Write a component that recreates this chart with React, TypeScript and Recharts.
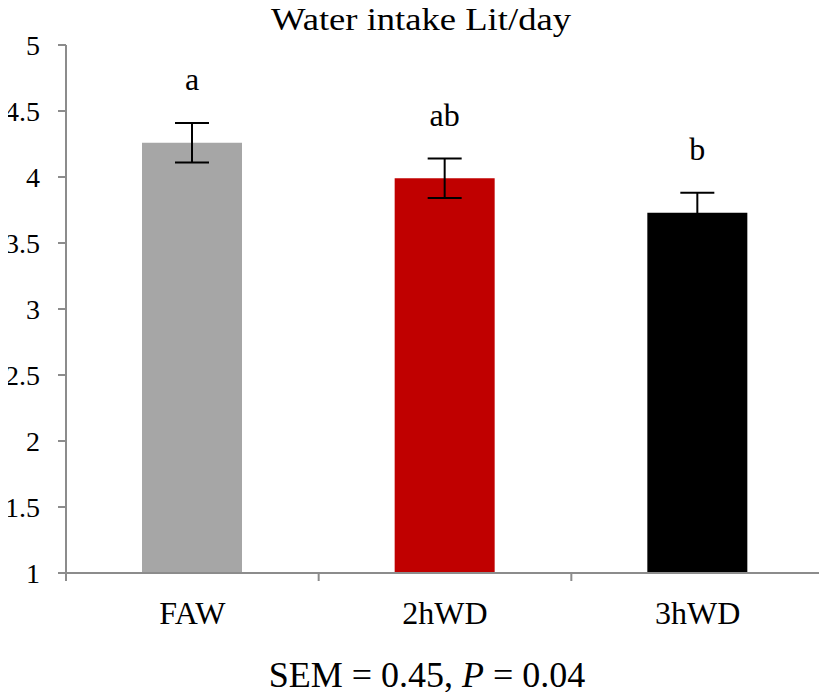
import * as React from "react";
import { BarChart, Bar, XAxis, YAxis, ErrorBar, LabelList, Cell } from "recharts";

const groups = ["FAW", "2hWD", "3hWD"];
const intake = [4.26, 3.99, 3.73];
const sem = [0.15, 0.15, 0.15];
const letters = ["a", "ab", "b"];
const colors = ["#a6a6a6", "#c00000", "#000000"];
const yTicks = [1, 1.5, 2, 2.5, 3, 3.5, 4, 4.5, 5];

const W = 827;
const H = 700;
const X_AXIS_H = 60;
const Y_AXIS_W = 66;
const margin = { top: 45, right: 3, bottom: 127 - X_AXIS_H, left: 0 };
const yMin = 1;
const yMax = 5;
const pxPerUnit = (H - margin.top - margin.bottom - X_AXIS_H) / (yMax - yMin);
const bandW = (W - margin.left - margin.right - Y_AXIS_W) / groups.length;
const font = "Liberation Serif, Times New Roman, serif";
const axisGray = "#8c8c8c";

const data = groups.map((g, i) => ({
  group: g,
  value: intake[i],
  sem: sem[i],
  letter: letters[i],
}));

function LetterLabel(props: any) {
  const { x, y, width, index, value } = props;
  const top = y - sem[index] * pxPerUnit;
  return (
    <text
      x={x + width / 2}
      y={top - 33}
      textAnchor="middle"
      fontFamily={font}
      fontSize={32}
      fill="#000"
    >
      {value}
    </text>
  );
}

// category label plus Excel-style tick marks at the band edges
function GroupTick(props: any) {
  const { x, y, payload } = props;
  const idx = payload.index;
  const left = x - bandW / 2;
  const right = x + bandW / 2;
  return (
    <g>
      <line x1={left} x2={left} y1={y} y2={y + 8} stroke={axisGray} strokeWidth={2} />
      {idx === groups.length - 1 && (
        <line x1={right} x2={right} y1={y} y2={y + 8} stroke={axisGray} strokeWidth={2} />
      )}
      <text x={x} y={y + 51} textAnchor="middle" fontFamily={font} fontSize={32} fill="#000">
        {payload.value}
      </text>
    </g>
  );
}

export default function App() {
  return (
    <div style={{ position: "relative", width: W, height: H, margin: -8 }}>
      <BarChart width={W} height={H} data={data} margin={margin} barSize={100}>
        <YAxis
          domain={[yMin, yMax]}
          ticks={yTicks}
          width={Y_AXIS_W}
          axisLine={{ stroke: axisGray, strokeWidth: 2 }}
          tickLine={{ stroke: axisGray, strokeWidth: 2 }}
          tickSize={8}
          tickMargin={18}
          tick={{ fill: "#000", fontFamily: font, fontSize: 28 }}
          allowDataOverflow
        />
        <XAxis
          dataKey="group"
          height={X_AXIS_H}
          axisLine={{ stroke: axisGray, strokeWidth: 2 }}
          tickLine={false}
          tickSize={0}
          tickMargin={0}
          tick={<GroupTick />}
        />
        <Bar dataKey="value" isAnimationActive={false}>
          {data.map((d, i) => (
            <Cell key={d.group} fill={colors[i]} />
          ))}
          <ErrorBar dataKey="sem" width={17} stroke="#000" strokeWidth={2} />
          <LabelList dataKey="letter" content={<LetterLabel />} />
        </Bar>
      </BarChart>
      <svg
        width={W}
        height={H}
        style={{ position: "absolute", left: 0, top: 0, pointerEvents: "none" }}
      >
        <text
          x={421}
          y={30}
          textAnchor="middle"
          fontFamily={font}
          fontSize={32}
          textLength={300}
          lengthAdjust="spacingAndGlyphs"
          fill="#000"
        >
          Water intake Lit/day
        </text>
        <text x={427} y={687} textAnchor="middle" fontFamily={font} fontSize={36} fill="#000">
          SEM = 0.45, <tspan fontStyle="italic">P</tspan> = 0.04
        </text>
      </svg>
    </div>
  );
}
